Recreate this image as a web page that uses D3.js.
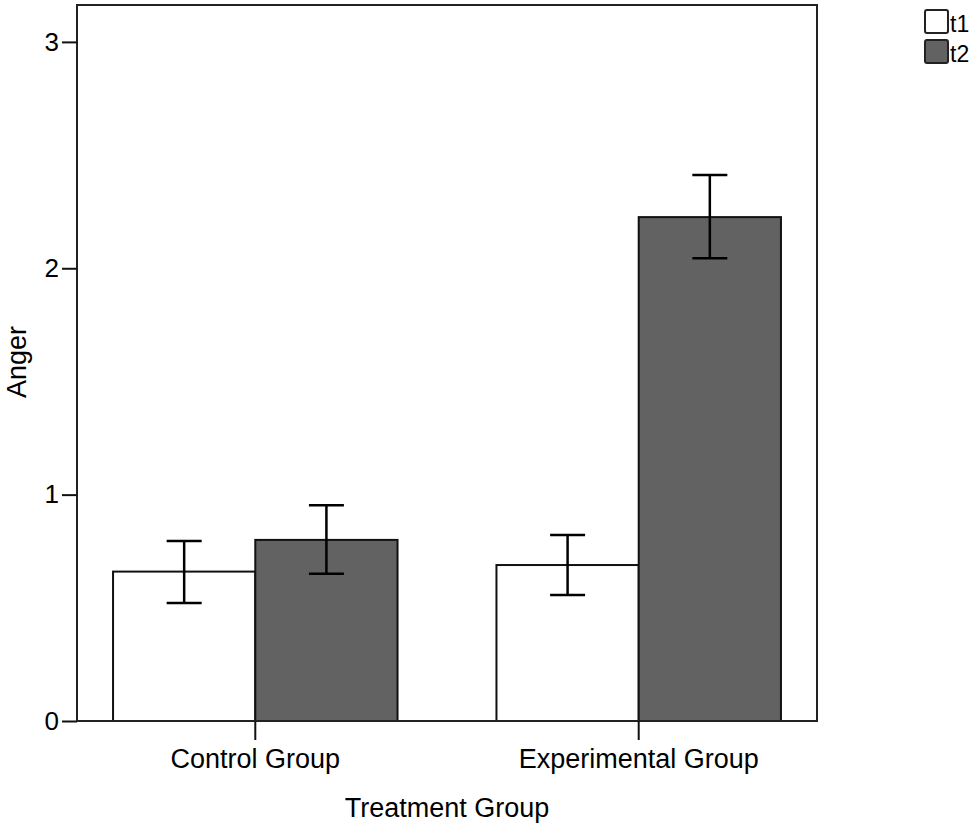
<!DOCTYPE html>
<html>
<head>
<meta charset="utf-8">
<script src="https://cdn.jsdelivr.net/npm/d3@7"></script>
<style>
  html, body { margin: 0; padding: 0; background: #fff; }
  text { font-family: "Liberation Sans", Arial, sans-serif; fill: #000; }
</style>
</head>
<body>
<div id="chart"></div>
<script>
// data
var groups = ['Control Group', 'Experimental Group'];
var times = ['t1', 't2'];
var means = [[0.660, 0.800], [0.689, 2.226]];
var ciLow = [[0.521, 0.650], [0.557, 2.044]];
var ciHigh = [[0.795, 0.953], [0.822, 2.412]];
var yTicks = [0, 1, 2, 3];
var colors = { t1: '#ffffff', t2: '#626262' };

var width = 975, height = 829;
var plot = { left: 77, right: 817, top: 5, bottom: 721 };

var svg = d3.select('#chart')
    .append('svg')
    .attr('width', width)
    .attr('height', height);

var y = d3.scaleLinear()
    .domain([0, 3.163])
    .range([plot.bottom, plot.top]);

var x0 = d3.scaleBand()
    .domain(groups)
    .range([plot.left, plot.right])
    .paddingInner(0.258)
    .paddingOuter(0.094);

var x1 = d3.scaleBand()
    .domain(times)
    .range([0, x0.bandwidth()]);

var rows = [];
groups.forEach(function(g, gi) {
    times.forEach(function(t, ti) {
        rows.push({ group: g, time: t, mean: means[gi][ti], lo: ciLow[gi][ti], hi: ciHigh[gi][ti] });
    });
});

// bars
svg.append('g').attr('class', 'bars')
    .selectAll('rect')
    .data(rows)
    .enter().append('rect')
        .attr('x', function(d) { return x0(d.group) + x1(d.time); })
        .attr('y', function(d) { return y(d.mean); })
        .attr('width', x1.bandwidth())
        .attr('height', function(d) { return y(0) - y(d.mean); })
        .attr('fill', function(d) { return colors[d.time]; })
        .attr('stroke', '#111')
        .attr('stroke-width', 2);

// error bars
var cap = 17.5;
var err = svg.append('g').attr('class', 'errors')
    .selectAll('g')
    .data(rows)
    .enter().append('g')
        .attr('transform', function(d) { return 'translate(' + (x0(d.group) + x1(d.time) + x1.bandwidth() / 2) + ',0)'; })
        .attr('stroke', '#000')
        .attr('stroke-width', 2.5);

err.append('line')
    .attr('x1', 0).attr('x2', 0)
    .attr('y1', function(d) { return y(d.lo); })
    .attr('y2', function(d) { return y(d.hi); });
err.append('line')
    .attr('x1', -cap).attr('x2', cap)
    .attr('y1', function(d) { return y(d.hi); })
    .attr('y2', function(d) { return y(d.hi); });
err.append('line')
    .attr('x1', -cap).attr('x2', cap)
    .attr('y1', function(d) { return y(d.lo); })
    .attr('y2', function(d) { return y(d.lo); });

// frame
svg.append('rect')
    .attr('x', plot.left)
    .attr('y', plot.top)
    .attr('width', plot.right - plot.left)
    .attr('height', plot.bottom - plot.top)
    .attr('fill', 'none')
    .attr('stroke', '#222')
    .attr('stroke-width', 2);

// y axis
var yAxis = svg.append('g')
    .attr('transform', 'translate(' + plot.left + ',0)')
    .call(d3.axisLeft(y).tickValues(yTicks).tickFormat(d3.format('d')).tickSize(15).tickPadding(3));
yAxis.select('.domain').remove();
yAxis.selectAll('.tick line').attr('stroke', '#111').attr('stroke-width', 2);
yAxis.selectAll('.tick text')
    .style('font-family', '"Liberation Sans", Arial, sans-serif')
    .style('font-size', '26px')
    .attr('fill', '#000');

// x axis
var xAxis = svg.append('g')
    .attr('transform', 'translate(0,' + plot.bottom + ')')
    .call(d3.axisBottom(x0).tickSize(19).tickPadding(9));
xAxis.select('.domain').remove();
xAxis.selectAll('.tick line').attr('stroke', '#111').attr('stroke-width', 2);
xAxis.selectAll('.tick text')
    .style('font-family', '"Liberation Sans", Arial, sans-serif')
    .style('font-size', '27px')
    .attr('fill', '#000');

// axis titles
svg.append('text')
    .attr('x', (plot.left + plot.right) / 2)
    .attr('y', 817)
    .attr('text-anchor', 'middle')
    .style('font-size', '27px')
    .text('Treatment Group');

svg.append('text')
    .attr('transform', 'translate(26,' + ((plot.top + plot.bottom) / 2 - 1) + ')rotate(-90)')
    .attr('text-anchor', 'middle')
    .style('font-size', '27px')
    .text('Anger');

// legend
var legend = svg.append('g').attr('class', 'legend')
    .selectAll('g')
    .data(times)
    .enter().append('g')
        .attr('transform', function(d, i) { return 'translate(925,' + (10 + i * 30) + ')'; });
legend.append('rect')
    .attr('width', 23)
    .attr('height', 23)
    .attr('rx', 2)
    .attr('fill', function(d) { return colors[d]; })
    .attr('stroke', '#222')
    .attr('stroke-width', 2);
legend.append('text')
    .attr('x', 25)
    .attr('y', 22)
    .style('font-size', '23px')
    .text(function(d) { return d; });
</script>
</body>
</html>
